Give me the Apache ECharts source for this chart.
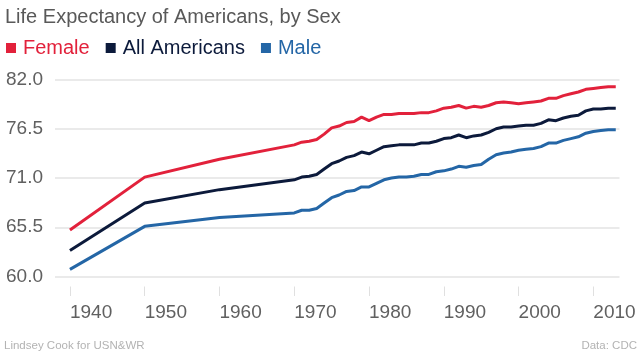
<!DOCTYPE html>
<html>
<head>
<meta charset="utf-8">
<script src="https://cdn.jsdelivr.net/npm/echarts@6/dist/echarts.min.js"></script>
<style>html,body{margin:0;padding:0;background:#fff}#c{width:640px;height:360px}</style>
</head>
<body>
<div id="c"></div>
<script>
var years = [1940, 1950, 1960, 1970, 1971, 1972, 1973, 1974, 1975, 1976, 1977, 1978, 1979, 1980,
  1981, 1982, 1983, 1984, 1985, 1986, 1987, 1988, 1989, 1990, 1991, 1992, 1993, 1994, 1995,
  1996, 1997, 1998, 1999, 2000, 2001, 2002, 2003, 2004, 2005, 2006, 2007, 2008, 2009, 2010,
  2011, 2012, 2013];
var female = [65.2, 71.1, 73.1, 74.7, 75.0, 75.1, 75.3, 75.9, 76.6, 76.8, 77.2, 77.3, 77.8, 77.4,
  77.8, 78.1, 78.1, 78.2, 78.2, 78.2, 78.3, 78.3, 78.5, 78.8, 78.9, 79.1, 78.8, 79.0, 78.9,
  79.1, 79.4, 79.5, 79.4, 79.3, 79.4, 79.5, 79.6, 79.9, 79.9, 80.2, 80.4, 80.6, 80.9, 81.0,
  81.1, 81.2, 81.2];
var allAmericans = [62.9, 68.2, 69.7, 70.8, 71.1, 71.2, 71.4, 72.0, 72.6, 72.9, 73.3, 73.5, 73.9, 73.7,
  74.1, 74.5, 74.6, 74.7, 74.7, 74.7, 74.9, 74.9, 75.1, 75.4, 75.5, 75.8, 75.5, 75.7, 75.8,
  76.1, 76.5, 76.7, 76.7, 76.8, 76.9, 76.9, 77.1, 77.5, 77.4, 77.7, 77.9, 78.0, 78.5, 78.7,
  78.7, 78.8, 78.8];
var male = [60.8, 65.6, 66.6, 67.1, 67.4, 67.4, 67.6, 68.2, 68.8, 69.1, 69.5, 69.6, 70.0, 70.0,
  70.4, 70.8, 71.0, 71.1, 71.1, 71.2, 71.4, 71.4, 71.7, 71.8, 72.0, 72.3, 72.2, 72.4, 72.5,
  73.1, 73.6, 73.8, 73.9, 74.1, 74.2, 74.3, 74.5, 74.9, 74.9, 75.2, 75.4, 75.6, 76.0, 76.2,
  76.3, 76.4, 76.4];
var xTicks = [1940, 1950, 1960, 1970, 1980, 1990, 2000, 2010];
var yTicks = [60.0, 65.5, 71.0, 76.5, 82.0];

var FONT = 'Liberation Sans, Arial, Helvetica, sans-serif';
var C_F = '#e2213b', C_A = '#0c1a3b', C_M = '#2466a6';

function pairs(vals) { return years.map(function (y, i) { return [y, vals[i]]; }); }

var chart = echarts.init(document.getElementById('c'), null, { renderer: 'canvas' });
chart.setOption({
  backgroundColor: '#fff',
  animation: false,
  title: {
    text: 'Life Expectancy of Americans, by Sex',
    left: 5, top: 7, padding: 0,
    textStyle: { fontFamily: FONT, fontSize: 20, fontWeight: 'normal', color: '#595959' }
  },
  legend: {
    left: 6, top: 38, padding: 0,
    icon: 'rect', itemWidth: 10, itemHeight: 10, itemGap: 16,
    textStyle: { fontFamily: FONT, fontSize: 20, padding: [0, 0, 0, 2] },
    data: [
      { name: 'Female', textStyle: { color: C_F } },
      { name: 'All Americans', textStyle: { color: C_A } },
      { name: 'Male', textStyle: { color: C_M } }
    ]
  },
  grid: { left: 55, right: 20.5, top: 79.5, bottom: 83.5, containLabel: false },
  xAxis: {
    type: 'value', min: 1938, max: 2013.5, offset: 10,
    axisLine: { show: false },
    axisTick: { show: true, length: 9.5, customValues: xTicks, lineStyle: { color: '#e0e0e0', width: 1 } },
    axisLabel: { customValues: xTicks, align: 'left', margin: 17, fontFamily: FONT, fontSize: 19, color: '#606060',
      formatter: function (v) { return String(v); } },
    splitLine: { show: false }
  },
  yAxis: {
    type: 'value', min: 60, max: 82,
    axisLine: { show: false },
    axisTick: { show: false, customValues: yTicks },
    axisLabel: { customValues: yTicks, margin: 12, fontFamily: FONT, fontSize: 19, color: '#606060',
      formatter: function (v) { return v.toFixed(1); } },
    splitLine: { show: true, lineStyle: { color: '#e3e3e3', width: 1.5 } }
  },
  series: [
    { name: 'Female', type: 'line', data: pairs(female), showSymbol: false, symbol: 'none',
      lineStyle: { color: C_F, width: 3 }, itemStyle: { color: C_F } },
    { name: 'All Americans', type: 'line', data: pairs(allAmericans), showSymbol: false, symbol: 'none',
      lineStyle: { color: C_A, width: 3 }, itemStyle: { color: C_A } },
    { name: 'Male', type: 'line', data: pairs(male), showSymbol: false, symbol: 'none',
      lineStyle: { color: C_M, width: 3 }, itemStyle: { color: C_M } }
  ],
  graphic: [
    { type: 'text', left: 4, top: 340, style: { text: 'Lindsey Cook for USN&WR', fontFamily: FONT, fontSize: 11.5, fill: '#b3b3b3' } },
    { type: 'text', right: 3, top: 340, style: { text: 'Data: CDC', fontFamily: FONT, fontSize: 11.5, fill: '#b3b3b3' } }
  ]
});
</script>
</body>
</html>
